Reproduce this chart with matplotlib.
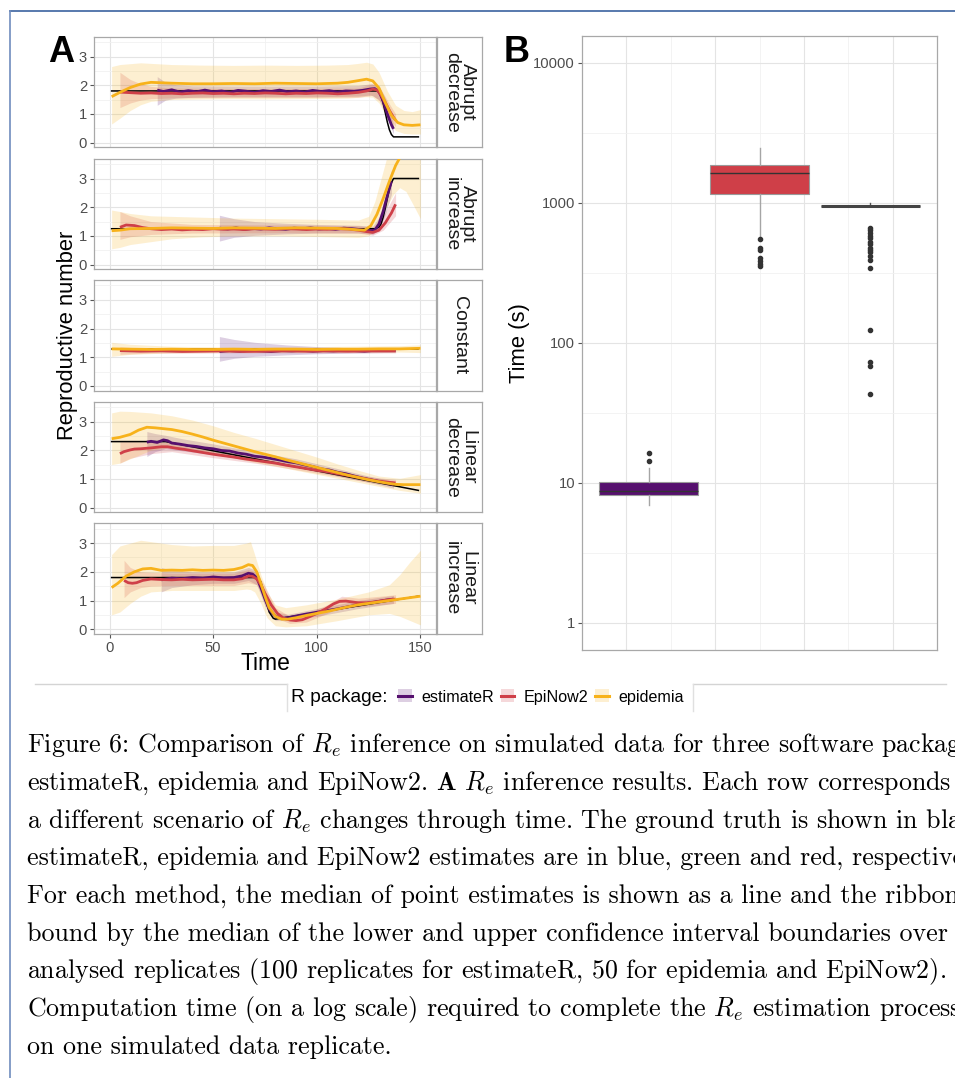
import matplotlib
matplotlib.use('Agg')
import matplotlib.pyplot as plt
from matplotlib.lines import Line2D
from matplotlib.patches import Patch

plt.rcParams['font.family'] = ['Liberation Sans', 'DejaVu Sans']
plt.rcParams['mathtext.fontset'] = 'cm'

# ---------------- data: panel A (Re estimates per scenario) ----------------
scenarios = ['Abrupt\ndecrease', 'Abrupt\nincrease', 'Constant', 'Linear\ndecrease', 'Linear\nincrease']
packages = ['estimateR', 'EpiNow2', 'epidemia']
pkg_colors = ['#56106e', '#cf3f48', '#f7b21b']

# Abrupt decrease
truth_abdec_t = [1, 129, 130, 131, 132, 133, 134, 135, 136, 137, 149]
truth_abdec_r = [1.8, 1.8, 1.76, 1.62, 1.38, 1.05, 0.72, 0.45, 0.28, 0.2, 0.2]
abdec_est_t = [23, 26, 30, 34, 38, 42, 46, 50, 54, 58, 62, 66, 70, 74, 78, 82, 86, 90, 94, 98,
               102, 106, 110, 114, 118, 122, 126, 128, 130, 132, 134, 136, 137]
abdec_est_med = [1.83, 1.78, 1.84, 1.76, 1.81, 1.77, 1.83, 1.77, 1.80, 1.75, 1.82, 1.79, 1.75, 1.81,
                 1.78, 1.83, 1.77, 1.80, 1.76, 1.82, 1.78, 1.81, 1.76, 1.80, 1.79, 1.82, 1.87, 1.88,
                 1.78, 1.45, 1.0, 0.62, 0.48]
abdec_est_bt = [23, 27, 32, 40, 60, 80, 100, 120, 126, 130, 133, 137]
abdec_est_lo = [1.3, 1.48, 1.55, 1.58, 1.6, 1.6, 1.6, 1.62, 1.66, 1.5, 1.0, 0.3]
abdec_est_hi = [2.3, 2.1, 2.02, 1.98, 1.97, 1.97, 1.97, 1.99, 2.05, 1.98, 1.55, 0.65]
abdec_epn_t = [5, 10, 15, 20, 25, 30, 35, 40, 45, 50, 55, 60, 65, 70, 75, 80, 85, 90, 95, 100,
               105, 110, 115, 120, 124, 127, 129, 131, 133, 135, 137, 138]
abdec_epn_med = [1.76, 1.74, 1.72, 1.73, 1.71, 1.72, 1.70, 1.72, 1.73, 1.71, 1.72, 1.70, 1.72, 1.71,
                 1.73, 1.72, 1.70, 1.72, 1.71, 1.73, 1.72, 1.70, 1.72, 1.75, 1.8, 1.86, 1.84, 1.65,
                 1.4, 1.12, 0.88, 0.78]
abdec_epn_bt = [5, 10, 15, 20, 30, 60, 90, 120, 127, 131, 135, 138]
abdec_epn_lo = [1.22, 1.38, 1.48, 1.53, 1.56, 1.57, 1.57, 1.58, 1.65, 1.4, 0.85, 0.55]
abdec_epn_hi = [2.45, 2.2, 2.05, 1.96, 1.9, 1.88, 1.88, 1.9, 2.05, 1.85, 1.35, 1.0]
abdec_epi_t = [1, 5, 10, 15, 20, 30, 40, 50, 60, 70, 80, 90, 100, 110, 115, 120, 124, 127, 130,
               133, 136, 139, 142, 146, 150]
abdec_epi_med = [1.6, 1.75, 1.92, 2.04, 2.1, 2.07, 2.05, 2.05, 2.06, 2.05, 2.07, 2.06, 2.05, 2.07,
                 2.1, 2.16, 2.21, 2.15, 1.9, 1.4, 0.95, 0.7, 0.62, 0.6, 0.62]
abdec_epi_bt = [1, 5, 10, 15, 20, 30, 45, 60, 75, 90, 105, 115, 120, 124, 127, 130, 134, 138, 142,
                146, 150]
abdec_epi_lo = [0.65, 0.85, 1.12, 1.32, 1.44, 1.5, 1.52, 1.53, 1.52, 1.53, 1.54, 1.55, 1.58, 1.6,
                1.58, 1.38, 0.85, 0.42, 0.32, 0.3, 0.3]
abdec_epi_hi = [2.65, 2.72, 2.75, 2.78, 2.76, 2.72, 2.7, 2.69, 2.7, 2.69, 2.7, 2.72, 2.76, 2.8,
                2.74, 2.45, 1.8, 1.3, 1.12, 1.08, 1.15]

# Abrupt increase
truth_abinc_t = [1, 128, 130, 131, 132, 133, 134, 135, 136, 137, 149]
truth_abinc_r = [1.25, 1.25, 1.3, 1.42, 1.65, 1.95, 2.3, 2.62, 2.85, 3.0, 3.0]
abinc_est_t = [53, 57, 61, 65, 69, 73, 77, 81, 85, 89, 93, 97, 101, 105, 109, 113, 117, 121, 125,
               128, 130, 132, 134, 136]
abinc_est_med = [1.27, 1.24, 1.28, 1.23, 1.26, 1.24, 1.28, 1.25, 1.23, 1.27, 1.25, 1.28, 1.24,
                 1.26, 1.23, 1.27, 1.25, 1.22, 1.18, 1.2, 1.42, 1.85, 2.4, 2.9]
abinc_est_bt = [53, 60, 70, 85, 100, 120, 127, 130, 133, 136]
abinc_est_lo = [0.82, 0.95, 1.02, 1.07, 1.1, 1.1, 1.06, 1.2, 1.75, 2.45]
abinc_est_hi = [1.72, 1.6, 1.5, 1.44, 1.4, 1.37, 1.34, 1.65, 2.35, 3.3]
abinc_epn_t = [5, 8, 12, 16, 20, 25, 30, 35, 40, 45, 50, 55, 60, 65, 70, 75, 80, 85, 90, 95, 100,
               105, 110, 115, 120, 124, 127, 130, 133, 136, 138]
abinc_epn_med = [1.3, 1.38, 1.36, 1.29, 1.25, 1.22, 1.24, 1.21, 1.23, 1.22, 1.25, 1.23, 1.24, 1.22,
                 1.25, 1.24, 1.23, 1.25, 1.24, 1.22, 1.24, 1.23, 1.25, 1.24, 1.2, 1.15, 1.12, 1.2,
                 1.45, 1.8, 2.1]
abinc_epn_bt = [5, 10, 20, 40, 80, 120, 127, 132, 138]
abinc_epn_lo = [0.88, 0.97, 1.05, 1.1, 1.11, 1.1, 1.02, 1.2, 1.7]
abinc_epn_hi = [1.85, 1.7, 1.5, 1.4, 1.38, 1.36, 1.28, 1.7, 2.5]
abinc_epi_t = [1, 5, 10, 20, 30, 40, 50, 60, 70, 80, 90, 100, 110, 115, 120, 123, 126, 129, 132,
               135, 138, 141, 145, 150]
abinc_epi_med = [1.18, 1.2, 1.25, 1.26, 1.28, 1.27, 1.26, 1.28, 1.27, 1.26, 1.28, 1.27, 1.26, 1.24,
                 1.21, 1.2, 1.35, 1.75, 2.3, 2.9, 3.45, 3.85, 4.3, 4.6]
abinc_epi_bt = [1, 5, 10, 20, 30, 45, 60, 80, 100, 120, 125, 128, 131, 134, 137, 140, 143, 146, 150]
abinc_epi_lo = [0.55, 0.6, 0.7, 0.8, 0.9, 0.97, 1.0, 1.0, 0.98, 0.95, 1.0, 1.2, 1.6, 2.05, 2.45,
                2.68, 2.55, 2.15, 1.6]
abinc_epi_hi = [1.9, 1.85, 1.78, 1.7, 1.68, 1.65, 1.62, 1.6, 1.58, 1.55, 1.68, 2.2, 3.0, 3.8, 4.5,
                5.0, 5.0, 5.0, 5.0]

# Constant
truth_const_t = [1, 149]
truth_const_r = [1.27, 1.27]
const_est_t = [53, 58, 63, 68, 73, 78, 83, 88, 93, 98, 103, 108, 113, 118, 123, 128, 133, 138]
const_est_med = [1.2, 1.23, 1.21, 1.24, 1.22, 1.2, 1.23, 1.22, 1.24, 1.21, 1.23, 1.22, 1.24, 1.23,
                 1.21, 1.24, 1.23, 1.24]
const_est_bt = [53, 60, 70, 85, 100, 120, 138]
const_est_lo = [0.86, 0.96, 1.03, 1.08, 1.12, 1.15, 1.17]
const_est_hi = [1.72, 1.62, 1.52, 1.43, 1.37, 1.32, 1.3]
const_epn_t = [5, 15, 25, 35, 45, 55, 65, 75, 85, 95, 105, 115, 125, 138]
const_epn_med = [1.23, 1.21, 1.22, 1.2, 1.21, 1.22, 1.2, 1.21, 1.22, 1.21, 1.22, 1.21, 1.22, 1.22]
const_epn_bt = [5, 20, 60, 100, 138]
const_epn_lo = [1.1, 1.14, 1.15, 1.15, 1.15]
const_epn_hi = [1.36, 1.3, 1.28, 1.28, 1.29]
const_epi_t = [1, 10, 20, 30, 40, 50, 60, 70, 80, 90, 100, 110, 120, 130, 140, 150]
const_epi_med = [1.29, 1.28, 1.27, 1.28, 1.27, 1.27, 1.28, 1.27, 1.28, 1.28, 1.27, 1.28, 1.28,
                 1.29, 1.29, 1.31]
const_epi_bt = [1, 10, 30, 60, 100, 140, 150]
const_epi_lo = [1.03, 1.1, 1.15, 1.17, 1.18, 1.18, 1.16]
const_epi_hi = [1.52, 1.45, 1.38, 1.36, 1.37, 1.4, 1.43]

# Linear decrease
truth_lindec_t = [1, 27, 149]
truth_lindec_r = [2.3, 2.3, 0.6]
lindec_est_t = [18, 20, 23, 26, 28, 30, 34, 38, 42, 46, 50, 54, 58, 62, 66, 70, 74, 78, 82, 86, 90,
                94, 98, 102, 106, 110, 114, 118, 122, 126, 130, 134, 137]
lindec_est_med = [2.28, 2.31, 2.27, 2.36, 2.33, 2.25, 2.21, 2.16, 2.13, 2.08, 2.05, 1.99, 1.97, 1.9,
                  1.86, 1.79, 1.76, 1.71, 1.66, 1.6, 1.56, 1.49, 1.43, 1.35, 1.31, 1.23, 1.18, 1.1,
                  1.03, 0.97, 0.91, 0.85, 0.8]
lindec_est_bt = [18, 22, 27, 35, 50, 70, 90, 110, 125, 137]
lindec_est_lo = [1.78, 1.95, 2.05, 1.98, 1.85, 1.63, 1.4, 1.1, 0.88, 0.68]
lindec_est_hi = [2.65, 2.58, 2.52, 2.4, 2.22, 1.95, 1.7, 1.36, 1.1, 0.92]
lindec_epn_t = [5, 7, 10, 12, 15, 20, 25, 28, 32, 36, 40, 45, 50, 55, 60, 65, 70, 75, 80, 85, 90,
                95, 100, 105, 110, 115, 120, 125, 130, 135, 138]
lindec_epn_med = [1.88, 1.95, 2.01, 2.04, 2.05, 2.08, 2.12, 2.12, 2.07, 2.03, 1.98, 1.92, 1.86,
                  1.81, 1.76, 1.7, 1.65, 1.6, 1.55, 1.48, 1.42, 1.36, 1.3, 1.25, 1.18, 1.12, 1.05,
                  0.98, 0.92, 0.88, 0.86]
lindec_epn_bt = [5, 10, 20, 30, 50, 70, 90, 110, 125, 138]
lindec_epn_lo = [1.55, 1.72, 1.88, 1.95, 1.74, 1.55, 1.32, 1.08, 0.88, 0.74]
lindec_epn_hi = [2.3, 2.3, 2.28, 2.27, 2.0, 1.76, 1.52, 1.28, 1.08, 0.98]
lindec_epi_t = [1, 5, 10, 14, 18, 22, 26, 30, 35, 40, 45, 50, 55, 60, 65, 70, 75, 80, 85, 90, 95,
                100, 105, 110, 115, 120, 125, 130, 135, 138, 142, 146, 150]
lindec_epi_med = [2.4, 2.45, 2.55, 2.7, 2.8, 2.78, 2.75, 2.72, 2.65, 2.56, 2.46, 2.35, 2.25, 2.15,
                  2.05, 1.95, 1.86, 1.77, 1.67, 1.58, 1.49, 1.4, 1.31, 1.22, 1.13, 1.05, 0.97, 0.9,
                  0.84, 0.81, 0.8, 0.8, 0.8]
lindec_epi_bt = [1, 5, 10, 20, 30, 40, 50, 60, 70, 80, 90, 100, 110, 120, 130, 140, 150]
lindec_epi_lo = [1.5, 1.55, 1.7, 2.0, 2.1, 2.02, 1.87, 1.73, 1.58, 1.45, 1.3, 1.16, 1.02, 0.88,
                 0.74, 0.6, 0.5]
lindec_epi_hi = [3.3, 3.36, 3.35, 3.3, 3.2, 3.05, 2.85, 2.62, 2.42, 2.2, 1.98, 1.76, 1.52, 1.3,
                 1.1, 1.02, 1.15]

# Linear increase
truth_lininc_t = [1, 71, 73, 75, 77, 79, 80, 149]
truth_lininc_r = [1.8, 1.8, 1.65, 1.1, 0.6, 0.38, 0.35, 1.15]
lininc_est_t = [25, 30, 35, 40, 45, 50, 55, 60, 64, 67, 69, 71, 73, 75, 77, 80, 83, 86, 90, 95, 100,
                105, 110, 115, 120, 125, 130, 134, 137]
lininc_est_med = [1.72, 1.78, 1.76, 1.8, 1.78, 1.82, 1.79, 1.8, 1.86, 1.95, 1.92, 1.8, 1.45, 1.05,
                  0.7, 0.45, 0.38, 0.4, 0.46, 0.53, 0.59, 0.65, 0.71, 0.78, 0.85, 0.91, 0.97, 1.02,
                  1.05]
lininc_est_bt = [25, 30, 40, 50, 60, 67, 71, 75, 80, 86, 100, 120, 137]
lininc_est_lo = [1.3, 1.45, 1.55, 1.6, 1.6, 1.7, 1.55, 0.8, 0.3, 0.3, 0.45, 0.72, 0.9]
lininc_est_hi = [2.15, 2.05, 2.0, 2.0, 2.0, 2.15, 2.05, 1.3, 0.6, 0.52, 0.72, 1.0, 1.18]
lininc_epn_t = [7, 9, 11, 13, 16, 20, 25, 30, 35, 40, 45, 50, 55, 60, 64, 67, 69, 71, 73, 75, 78,
                81, 84, 87, 90, 93, 96, 100, 104, 108, 111, 114, 117, 120, 124, 128, 132, 135, 138]
lininc_epn_med = [1.7, 1.62, 1.6, 1.62, 1.7, 1.75, 1.73, 1.72, 1.74, 1.72, 1.73, 1.74, 1.72, 1.72,
                  1.76, 1.85, 1.84, 1.75, 1.55, 1.25, 0.85, 0.55, 0.38, 0.32, 0.3, 0.33, 0.42, 0.55,
                  0.7, 0.88, 0.97, 0.98, 0.95, 0.92, 0.92, 0.95, 1.0, 1.03, 1.05]
lininc_epn_bt = [7, 10, 15, 20, 30, 60, 67, 71, 75, 80, 87, 95, 105, 112, 120, 138]
lininc_epn_lo = [1.1, 1.3, 1.45, 1.5, 1.52, 1.52, 1.62, 1.55, 1.0, 0.4, 0.2, 0.25, 0.55, 0.8, 0.78, 0.9]
lininc_epn_hi = [2.4, 2.15, 2.0, 1.98, 1.95, 1.95, 2.08, 1.98, 1.5, 0.75, 0.45, 0.55, 0.85, 1.15,
                 1.08, 1.2]
lininc_epi_t = [1, 4, 8, 12, 16, 20, 25, 30, 35, 40, 45, 50, 55, 60, 64, 67, 69, 71, 73, 75, 77, 80,
                83, 86, 90, 95, 100, 105, 110, 115, 120, 125, 130, 135, 140, 145, 150]
lininc_epi_med = [1.45, 1.6, 1.85, 2.0, 2.1, 2.12, 2.05, 2.06, 2.05, 2.07, 2.05, 2.06, 2.05, 2.08,
                  2.15, 2.25, 2.22, 2.0, 1.6, 1.15, 0.75, 0.45, 0.35, 0.35, 0.4, 0.48, 0.55, 0.62,
                  0.7, 0.78, 0.85, 0.9, 0.95, 1.0, 1.05, 1.1, 1.15]
lininc_epi_bt = [1, 5, 10, 15, 20, 30, 40, 50, 60, 66, 68, 70, 73, 76, 80, 85, 95, 110, 125, 135,
                 140, 145, 150]
lininc_epi_lo = [0.5, 0.6, 0.9, 1.15, 1.3, 1.35, 1.35, 1.35, 1.35, 1.4, 1.38, 1.3, 0.9, 0.4, 0.12,
                 0.08, 0.12, 0.3, 0.5, 0.55, 0.45, 0.3, 0.15]
lininc_epi_hi = [2.6, 2.9, 3.0, 3.1, 3.05, 2.95, 2.9, 2.92, 2.92, 3.0, 3.05, 2.6, 1.9, 1.3, 0.85,
                 0.75, 0.85, 1.05, 1.3, 1.55, 1.9, 2.35, 2.75]

# ---------------- data: panel B (computation time, seconds) ----------------
box_q1 = [8.2, 1146, 952]
box_med = [8.67, 1630, 952]
box_q3 = [10.05, 1846, 952]
box_whislo = [6.96, 581, 940]
box_whishi = [12.7, 2461, 1000]
est_out = [14.2, 16.3]
epn_out = [550, 474, 457, 403, 385, 365, 351]
epi_out = [659, 634, 608, 581, 556, 526, 510, 475, 456, 442, 418, 387, 342, 124, 72.3, 67.7, 43.2]

caption_lines = [
    "Figure 6: Comparison of $R_e$ inference on simulated data for three software packages:",
    "estimateR, epidemia and EpiNow2. $\\mathbf{A}$ $R_e$ inference results. Each row corresponds to",
    "a different scenario of $R_e$ changes through time. The ground truth is shown in black;",
    "estimateR, epidemia and EpiNow2 estimates are in blue, green and red, respectively.",
    "For each method, the median of point estimates is shown as a line and the ribbon is",
    "bound by the median of the lower and upper confidence interval boundaries over the",
    "analysed replicates (100 replicates for estimateR, 50 for epidemia and EpiNow2). $\\mathbf{B}$",
    "Computation time (on a log scale) required to complete the $R_e$ estimation process",
    "on one simulated data replicate.",
]

scen_data = [
    (truth_abdec_t, truth_abdec_r,
     [(abdec_est_t, abdec_est_med, abdec_est_bt, abdec_est_lo, abdec_est_hi),
      (abdec_epn_t, abdec_epn_med, abdec_epn_bt, abdec_epn_lo, abdec_epn_hi),
      (abdec_epi_t, abdec_epi_med, abdec_epi_bt, abdec_epi_lo, abdec_epi_hi)]),
    (truth_abinc_t, truth_abinc_r,
     [(abinc_est_t, abinc_est_med, abinc_est_bt, abinc_est_lo, abinc_est_hi),
      (abinc_epn_t, abinc_epn_med, abinc_epn_bt, abinc_epn_lo, abinc_epn_hi),
      (abinc_epi_t, abinc_epi_med, abinc_epi_bt, abinc_epi_lo, abinc_epi_hi)]),
    (truth_const_t, truth_const_r,
     [(const_est_t, const_est_med, const_est_bt, const_est_lo, const_est_hi),
      (const_epn_t, const_epn_med, const_epn_bt, const_epn_lo, const_epn_hi),
      (const_epi_t, const_epi_med, const_epi_bt, const_epi_lo, const_epi_hi)]),
    (truth_lindec_t, truth_lindec_r,
     [(lindec_est_t, lindec_est_med, lindec_est_bt, lindec_est_lo, lindec_est_hi),
      (lindec_epn_t, lindec_epn_med, lindec_epn_bt, lindec_epn_lo, lindec_epn_hi),
      (lindec_epi_t, lindec_epi_med, lindec_epi_bt, lindec_epi_lo, lindec_epi_hi)]),
    (truth_lininc_t, truth_lininc_r,
     [(lininc_est_t, lininc_est_med, lininc_est_bt, lininc_est_lo, lininc_est_hi),
      (lininc_epn_t, lininc_epn_med, lininc_epn_bt, lininc_epn_lo, lininc_epn_hi),
      (lininc_epi_t, lininc_epi_med, lininc_epi_bt, lininc_epi_lo, lininc_epi_hi)]),
]

# ---------------- layout helpers (pixels of the 955x1078 image) ----------------
W, H = 955, 1078


def fx(x):
    return x / W


def fy(y):
    return 1 - y / H


def px_axes(x0, y0, x1, y1):
    return fig.add_axes([fx(x0), fy(y1), (x1 - x0) / W, (y1 - y0) / H])


GRID_MAJ = '#e4e4e4'
GRID_MIN = '#f1f1f1'
BORDER = '#a8a8a8'
TICKLAB = '#4d4d4d'
TICKSIZE = 10.6

fig = plt.figure(figsize=(W / 100, H / 100), dpi=100)

# ---------------- panel A ----------------
facet_tops = [36.7, 158.7, 280.0, 401.7, 523.3]
facet_h = 110.5
for i, (scen, (tt, tr, series)) in enumerate(zip(scenarios, scen_data)):
    top = facet_tops[i]
    ax = px_axes(94, top, 436, top + facet_h)
    ax.set_xlim(-7.5, 157.5)
    ax.set_ylim(-0.16, 3.69)
    ax.set_xticks([0, 50, 100, 150])
    ax.set_xticks([25, 75, 125], minor=True)
    ax.set_yticks([0, 1, 2, 3])
    ax.set_yticks([0.5, 1.5, 2.5, 3.5], minor=True)
    ax.grid(which='major', color=GRID_MAJ, lw=0.8)
    ax.grid(which='minor', color=GRID_MIN, lw=0.6)
    ax.set_axisbelow(True)
    ax.tick_params(which='major', length=3, width=0.8, color='#555555',
                   labelcolor=TICKLAB, labelsize=TICKSIZE, pad=2)
    ax.tick_params(which='minor', length=0)
    if i < 4:
        ax.tick_params(axis='x', labelbottom=False, length=0)
    for sp in ax.spines.values():
        sp.set_color(BORDER)
        sp.set_linewidth(0.9)

    for (lt, lm, bt, lo, hi), col in zip(series, pkg_colors):
        ax.fill_between(bt, lo, hi, color=col, alpha=0.2, lw=0)
    ax.plot(tt, tr, color='black', lw=1.1, zorder=3)
    for (lt, lm, bt, lo, hi), col in zip(series, pkg_colors):
        ax.plot(lt, lm, color=col, lw=2.0, zorder=4, solid_capstyle='butt')

    # facet strip
    sx = px_axes(437, top, 482, top + facet_h)
    sx.set_xticks([])
    sx.set_yticks([])
    for sp in sx.spines.values():
        sp.set_color(BORDER)
        sp.set_linewidth(0.9)
    sx.text(0.5, 0.5, scen, rotation=-90, ha='center', va='center',
            fontsize=14, linespacing=0.92, color='#1a1a1a', transform=sx.transAxes)

fig.text(fx(67), fy(335), 'Reproductive number', rotation=90, ha='center', va='center', fontsize=15.8)
fig.text(fx(265), fy(663), 'Time', ha='center', va='center', fontsize=16.5)
fig.text(fx(61), fy(53), 'A', ha='center', va='center', fontsize=26, fontweight='bold')

# ---------------- panel B ----------------
axb = px_axes(582, 35.6, 937, 650)
axb.set_yscale('log')
axb.set_xlim(0.4, 3.6)
axb.set_ylim(0.64, 15600)
stats = []
for k, outs in enumerate([est_out, epn_out, epi_out]):
    stats.append(dict(label=packages[k], q1=box_q1[k], med=box_med[k], q3=box_q3[k],
                      whislo=box_whislo[k], whishi=box_whishi[k], fliers=outs))
bp = axb.bxp(stats, positions=[1, 2, 3], widths=0.9, patch_artist=True, showcaps=False,
             boxprops=dict(edgecolor='#9a9a9a', linewidth=0.8),
             whiskerprops=dict(color='#a5a5a5', linewidth=1.0),
             medianprops=dict(color='#333333', linewidth=1.0),
             flierprops=dict(marker='o', markersize=3.0, markerfacecolor='#333333',
                             markeredgecolor='#333333', linestyle='none'))
for patch, col in zip(bp['boxes'], pkg_colors):
    patch.set_facecolor(col)
bp['medians'][2].set_linewidth(2.2)
bp['medians'][2].set_color('#444444')
bp['whiskers'][4].set_color('#555555')
bp['whiskers'][5].set_color('#555555')

axb.set_yticks([1, 10, 100, 1000, 10000])
axb.set_yticklabels(['1', '10', '100', '1000', '10000'])
axb.set_yticks([3.162, 31.62, 316.2, 3162], minor=True)
axb.set_yticklabels([], minor=True)
axb.set_xticks([0.8, 1.6, 2.4, 3.2])
axb.set_xticks([1.2, 2.0, 2.8], minor=True)
axb.set_xticklabels([])
axb.grid(which='major', color=GRID_MAJ, lw=0.8)
axb.grid(which='minor', color=GRID_MIN, lw=0.6)
axb.set_axisbelow(True)
axb.tick_params(axis='y', which='major', length=3, width=0.8, color='#555555',
                labelcolor=TICKLAB, labelsize=TICKSIZE, pad=2)
axb.tick_params(axis='x', which='both', length=0)
axb.tick_params(axis='y', which='minor', length=0)
for sp in axb.spines.values():
    sp.set_color(BORDER)
    sp.set_linewidth(0.9)

fig.text(fx(519), fy(343), 'Time (s)', rotation=90, ha='center', va='center', fontsize=15.8)
fig.text(fx(517), fy(52), 'B', ha='center', va='center', fontsize=26, fontweight='bold')

# ---------------- legend ----------------
fig.add_artist(Line2D([fx(35), fx(287)], [fy(684), fy(684)], color='#d4d4d4', lw=1))
fig.add_artist(Line2D([fx(693), fx(946)], [fy(684), fy(684)], color='#d4d4d4', lw=1))
fig.add_artist(Line2D([fx(287), fx(287)], [fy(684), fy(711)], color='#e0e0e0', lw=1))
fig.add_artist(Line2D([fx(693), fx(693)], [fy(684), fy(711)], color='#e0e0e0', lw=1))
fig.text(fx(291), fy(697), 'R package:', ha='left', va='center', fontsize=13.8)
handles = [(Patch(facecolor=c, alpha=0.2, edgecolor='none'), Line2D([], [], color=c, lw=2.2))
           for c in pkg_colors]
fig.legend(handles, packages, loc='center left', bbox_to_anchor=(fx(398), fy(697)), ncol=3,
           frameon=False, fontsize=11.6, handlelength=0.85, handleheight=0.85,
           columnspacing=0.4, handletextpad=0.6, borderpad=0, borderaxespad=0)

# ---------------- caption & frame ----------------
for j, line in enumerate(caption_lines):
    fig.text(fx(27), fy(752 + 37.7 * j), line, family='cmr10', fontsize=18.7,
             ha='left', va='baseline')

fig.add_artist(Line2D([fx(10), fx(955)], [fy(11), fy(11)], color='#3b62a0', lw=1.2))
fig.add_artist(Line2D([fx(10), fx(10)], [fy(11), fy(1078)], color='#6f8cbd', lw=1.2))

fig.savefig('out.png', dpi=100)
